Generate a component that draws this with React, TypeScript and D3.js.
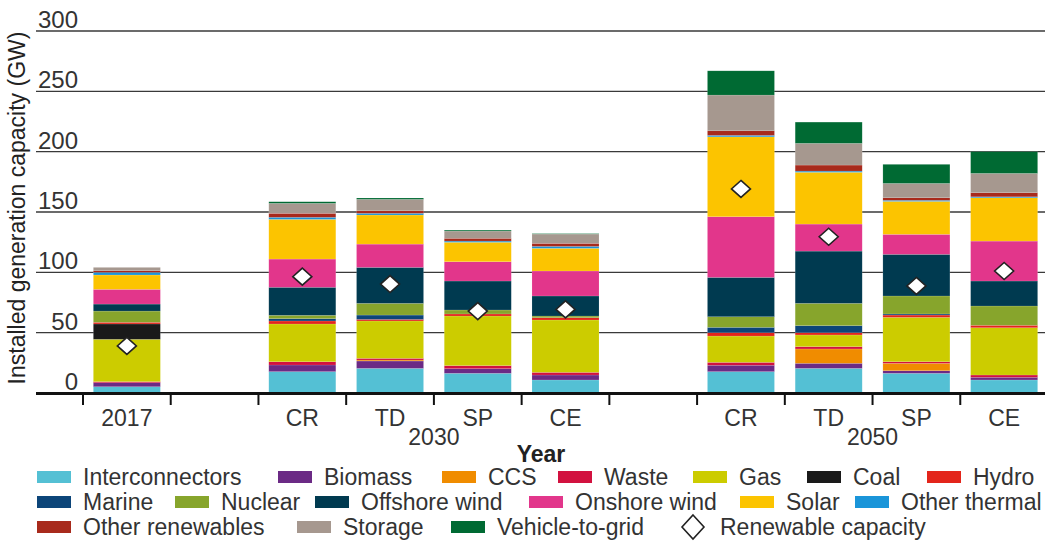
import React from 'react';
import * as d3 from 'd3';

// ---- data ----
const barLabels = ['2017', 'CR', 'TD', 'SP', 'CE', 'CR', 'TD', 'SP', 'CE'];
const barSlots = ['2017', '2030 CR', '2030 TD', '2030 SP', '2030 CE', '2050 CR', '2050 TD', '2050 SP', '2050 CE'];
const slotDomain = ['2017', 'gap1', '2030 CR', '2030 TD', '2030 SP', '2030 CE', 'gap2', '2050 CR', '2050 TD', '2050 SP', '2050 CE'];
const groupLabels = ['2030', '2050'];
const yTicks = [0, 50, 100, 150, 200, 250, 300];

const interconnectors = [5.2, 17.7, 20.4, 16.3, 10.8, 17.7, 20.4, 16.3, 10.8];
const biomass = [3.3, 5.5, 6.1, 3.9, 4.1, 5.3, 4.2, 2.2, 2.2];
const ccs = [0, 0, 0.8, 0, 0, 0, 11.9, 6.1, 0];
const waste = [0.9, 2.7, 1.4, 2.5, 2.2, 2.4, 1.9, 1.3, 1.9];
const gas = [35.1, 31.3, 31.0, 41.1, 43.4, 21.8, 9.7, 36.8, 39.2];
const coal = [12.7, 0, 0, 0, 0, 0, 0, 0, 0];
const hydro = [1.4, 2.5, 1.3, 1.7, 1.9, 2.8, 1.9, 1.9, 2.0];
const marine = [0, 1.9, 3.6, 0, 0, 4.4, 5.8, 0.9, 0];
const nuclear = [9.3, 2.8, 9.7, 3.3, 1.4, 8.8, 18.5, 14.9, 16.0];
const offshoreWind = [5.8, 23.2, 29.8, 24.0, 16.6, 32.6, 43.3, 34.5, 20.7];
const onshoreWind = [12.2, 23.4, 19.3, 16.0, 20.7, 50.3, 22.4, 16.6, 33.1];
const solar = [11.9, 32.9, 24.1, 16.1, 18.8, 66.2, 42.9, 27.3, 35.9];
const otherThermal = [2.2, 1.7, 1.4, 1.0, 1.6, 1.2, 1.0, 0.9, 0.8];
const otherRenewables = [1.3, 3.3, 2.1, 2.3, 2.5, 3.8, 5.0, 2.1, 3.4];
const storage = [2.8, 8.3, 9.5, 6.0, 7.7, 29.6, 18.0, 11.9, 16.0];
const vehicleToGrid = [0, 1.3, 1.1, 0.8, 0.4, 20.1, 17.6, 15.8, 18.0];
const renewableCapacity = [39, 96.4, 90.3, 67.9, 69.3, 169.1, 129.5, 88.7, 101.1];

const seriesNames = ['Interconnectors', 'Biomass', 'CCS', 'Waste', 'Gas', 'Coal', 'Hydro', 'Marine', 'Nuclear',
  'Offshore wind', 'Onshore wind', 'Solar', 'Other thermal', 'Other renewables', 'Storage', 'Vehicle-to-grid'];
const seriesValues = [interconnectors, biomass, ccs, waste, gas, coal, hydro, marine, nuclear,
  offshoreWind, onshoreWind, solar, otherThermal, otherRenewables, storage, vehicleToGrid];
const seriesColors = ['#54c0d4', '#6b2a85', '#f08c00', '#d2113f', '#cccc00', '#1a1a1a', '#e3251b', '#0c4579',
  '#87a52c', '#003a50', '#e2368b', '#fcc400', '#1a95d9', '#a82a1c', '#a6988f', '#006a33'];

// legend layout (rows of [seriesIndex or -1 for diamond, swatch x])
const legendRows: [number, number][][] = [
  [[0, 37], [1, 278], [2, 442], [3, 558], [4, 693], [5, 807], [6, 927]],
  [[7, 37], [8, 175], [9, 315], [10, 529], [11, 740], [12, 855]],
  [[13, 37], [14, 297], [15, 451], [-1, 680]],
];

export default function App() {
  const W = 1045, H = 543;
  const x = d3.scaleBand<string>().domain(slotDomain).range([83, 1048]).paddingInner(0.236).paddingOuter(0.118);
  const y = d3.scaleLinear().domain([0, 300]).range([393, 31]);
  const step = x.step();
  const bw = x.bandwidth();
  const slotStart = (s: string) => (x(s) as number) - step * 0.118;

  const rows = barSlots.map((s, i) => {
    const r: any = { slot: s };
    seriesNames.forEach((n, k) => { r[n] = seriesValues[k][i]; });
    return r;
  });
  const stacked = d3.stack<any>().keys(seriesNames)(rows);

  const tickXs = d3.range(0, slotDomain.length).map(k => 83 + k * step);
  const font = "'Liberation Sans', Arial, Helvetica, sans-serif";
  const diamond = (cx: number, cy: number, hw: number, hh: number) =>
    `M${cx},${cy - hh}L${cx + hw},${cy}L${cx},${cy + hh}L${cx - hw},${cy}Z`;

  return (
    <svg width={W} height={H} style={{ position: 'absolute', left: 0, top: 0, background: '#fff' }} fontFamily={font}>
      {/* gridlines */}
      {yTicks.filter(t => t > 0).map(t => (
        <line key={t} x1={36} x2={W} y1={y(t)} y2={y(t)} stroke="#3a3a3a" strokeWidth={1.3} />
      ))}
      {yTicks.map(t => (
        <text key={'l' + t} x={78} y={y(t) - 3} textAnchor="end" fontSize={24} fill="#333">{t}</text>
      ))}
      {/* bars */}
      {stacked.map((layer, k) => (
        <g key={layer.key} fill={seriesColors[k]}>
          {layer.map((d, i) => {
            const h = y(d[0]) - y(d[1]);
            if (h <= 0) return null;
            return <rect key={i} x={x(barSlots[i])} y={y(d[1])} width={bw} height={h}
              stroke="#ffffff" strokeOpacity={0.25} strokeWidth={0.5} />;
          })}
        </g>
      ))}
      {/* renewable capacity diamonds */}
      {renewableCapacity.map((v, i) => (
        <path key={'d' + i} d={diamond((x(barSlots[i]) as number) + bw / 2, y(v), 9.5, 8.5)}
          fill="#fff" stroke="#222" strokeWidth={1.6} strokeLinejoin="miter" />
      ))}
      {/* x axis */}
      <line x1={36} x2={W} y1={393.5} y2={393.5} stroke="#111" strokeWidth={3} />
      {tickXs.map((tx, k) => (
        <line key={'t' + k} x1={tx} x2={tx} y1={393} y2={405} stroke="#111" strokeWidth={2} />
      ))}
      {barSlots.map((s, i) => (
        <text key={'c' + i} x={(x(s) as number) + bw / 2} y={426} textAnchor="middle" fontSize={23} fill="#333">{barLabels[i]}</text>
      ))}
      <text x={slotStart('2030 SP')} y={445} textAnchor="middle" fontSize={23} fill="#333">{groupLabels[0]}</text>
      <text x={slotStart('2050 SP')} y={445} textAnchor="middle" fontSize={23} fill="#333">{groupLabels[1]}</text>
      <text x={541} y={462} textAnchor="middle" fontSize={23} fontWeight="bold" fill="#222">Year</text>
      {/* y title */}
      <text transform={`translate(25,208) rotate(-90)`} textAnchor="middle" fontSize={23} fill="#222">Installed generation capacity (GW)</text>
      {/* legend */}
      {legendRows.map((row, r) => (
        <g key={'lr' + r}>
          {row.map(([si, sx]) => {
            const top = 471 + r * 25;
            const base = 485 + r * 25;
            if (si < 0) {
              return (
                <g key="dia">
                  <path d={diamond(sx + 13, top + 6, 11, 12)} fill="#fff" stroke="#222" strokeWidth={1.6} />
                  <text x={sx + 40} y={base} fontSize={23} fill="#333">Renewable capacity</text>
                </g>
              );
            }
            return (
              <g key={si}>
                <rect x={sx} y={top} width={34} height={12} fill={seriesColors[si]} />
                <text x={sx + 46} y={base} fontSize={23} fill="#333">{seriesNames[si]}</text>
              </g>
            );
          })}
        </g>
      ))}
    </svg>
  );
}
